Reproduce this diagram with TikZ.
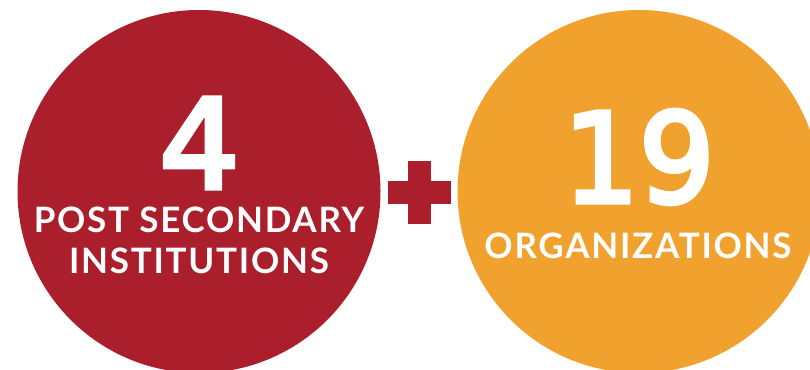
\documentclass[tikz,border=0pt]{standalone}
\usepackage{fontspec}
\setmainfont{Lato}
\newfontfamily\numfont[FakeBold=4]{DejaVu Sans}
\definecolor{redc}{HTML}{AB1F2D}
\definecolor{orc}{HTML}{F1A22E}
\begin{document}
\begin{tikzpicture}[x=1pt,y=-1pt,
 lab/.style={text=white,font=\fontsize{35}{41}\selectfont\bfseries,align=center,inner sep=0pt},
 num/.style={text=white,font=\fontsize{124}{124}\selectfont\numfont,inner sep=0pt}]
\useasboundingbox (0,0) rectangle (810,369);
\clip (0,0) rectangle (810,369);
\fill[white] (0,0) rectangle (810,369);
\fill[redc] (199,191.5) circle (181.5);
\fill[orc] (639,191.5) circle (181.5);
\fill[redc] (388,181) rectangle (451,204);
\fill[redc] (408,161) rectangle (431,224);
\node[num,xscale=1.02] (n1) at (199.5,143) {4};
\node[num,xscale=0.96] (n2) at (639,157) {19};
\node[lab] (l1) at (199,240) {\addfontfeature{LetterSpace=5}POST SECONDARY\\\addfontfeature{LetterSpace=5}INSTITUTIONS};
\node[lab] (l2) at (638,246) {\addfontfeature{LetterSpace=5}ORGANIZATIONS};
\end{tikzpicture}
\end{document}
